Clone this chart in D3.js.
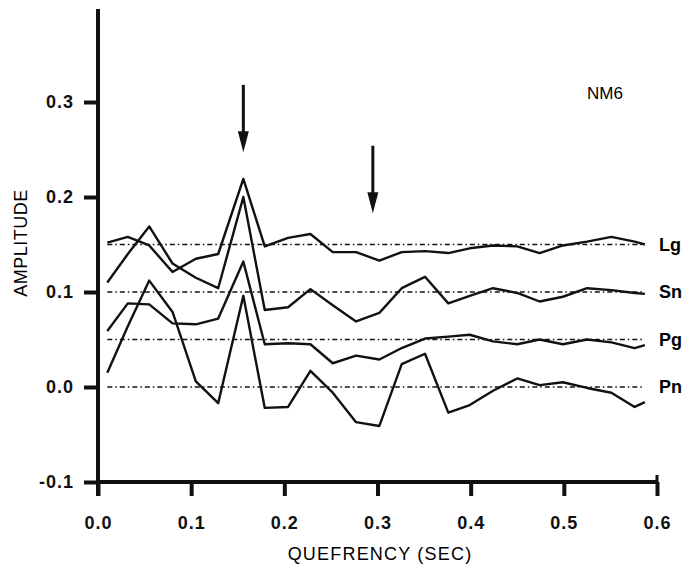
<!DOCTYPE html>
<html>
<head>
<meta charset="UTF-8">
<title>NM6 cepstra</title>
<script src="https://d3js.org/d3.v7.min.js"></script>
<style>
  body { margin: 0; background: #fff; font-family: "Liberation Sans", Arial, sans-serif; }
  .trace { fill: none; stroke: #111; stroke-width: 2.4; stroke-linejoin: round; }
  .base { stroke: #111; stroke-width: 1.3; stroke-dasharray: 5,3,1.5,3; }
  .domain, .tick line { stroke: #111; stroke-width: 4px; }
  .tick text { font-size: 18px; font-weight: bold; fill: #111; letter-spacing: 1px; }
</style>
</head>
<body>
<svg width="690" height="577"></svg>
<script>
// quefrency of the samples (s)
const quefrency = [0.010, 0.032, 0.055, 0.080, 0.105, 0.129, 0.156, 0.179, 0.204, 0.228,
  0.252, 0.277, 0.302, 0.326, 0.351, 0.376, 0.399, 0.424, 0.450, 0.474,
  0.499, 0.525, 0.551, 0.576, 0.587];

// amplitudes, each phase already offset to its baseline
const lg = [0.152, 0.158, 0.149, 0.121, 0.135, 0.140, 0.219, 0.148, 0.157, 0.161,
  0.142, 0.142, 0.133, 0.142, 0.143, 0.141, 0.146, 0.149, 0.148, 0.141,
  0.149, 0.153, 0.158, 0.153, 0.150];
const sn = [0.110, 0.140, 0.169, 0.130, 0.115, 0.104, 0.200, 0.081, 0.084, 0.103,
  0.086, 0.069, 0.078, 0.104, 0.116, 0.088, 0.096, 0.104, 0.099, 0.090,
  0.095, 0.104, 0.102, 0.099, 0.098];
const pg = [0.059, 0.088, 0.087, 0.067, 0.066, 0.072, 0.132, 0.045, 0.046, 0.045,
  0.025, 0.033, 0.029, 0.041, 0.051, 0.053, 0.055, 0.048, 0.045, 0.050,
  0.045, 0.050, 0.047, 0.041, 0.044];
const pn = [0.015, 0.064, 0.112, 0.079, 0.006, -0.017, 0.096, -0.022, -0.021, 0.017,
  -0.006, -0.037, -0.041, 0.024, 0.035, -0.027, -0.019, -0.004, 0.009, 0.002,
  0.005, -0.001, -0.006, -0.021, -0.016];

const phases = ["Lg", "Sn", "Pg", "Pn"];
const baselines = [0.15, 0.10, 0.05, 0.0];
const seriesList = [lg, sn, pg, pn];

const xTicks = [0.0, 0.1, 0.2, 0.3, 0.4, 0.5, 0.6];
const yTicks = [-0.1, 0.0, 0.1, 0.2, 0.3];

// arrows marking the peaks: [quefrency, from, to]
const arrows = [[0.156, 0.318, 0.247], [0.295, 0.254, 0.183]];

const svg = d3.select("svg");
const x = d3.scaleLinear().domain([0, 0.6]).range([98, 657]);
const y = d3.scaleLinear().domain([-0.1, 0.4]).range([482, 7]);
const fmt = d => d.toFixed(1);   // plain hyphen for the minus sign

// axes
const xAxis = svg.append("g")
  .attr("transform", `translate(0,${y(-0.1)})`)
  .call(d3.axisBottom(x).tickValues(xTicks).tickFormat(fmt)
    .tickSize(14).tickSizeOuter(0).tickPadding(20));
xAxis.select(".domain").attr("d", `M${x(0)},0H${x(0.6)}`);
// right end tick also pokes up a bit
svg.append("line").attr("x1", x(0.6)).attr("x2", x(0.6))
  .attr("y1", y(-0.1) - 7).attr("y2", y(-0.1))
  .attr("stroke", "#111").attr("stroke-width", 3);

const yAxis = svg.append("g")
  .attr("transform", `translate(${x(0)},0)`)
  .call(d3.axisLeft(y).tickValues(yTicks).tickFormat(fmt)
    .tickSize(14).tickSizeOuter(0).tickPadding(10));
yAxis.select(".domain").attr("d", `M0,${y(0.398)}V${y(-0.1) + 14}`);

// axis titles
svg.append("text").attr("x", 380).attr("y", 560)
  .attr("text-anchor", "middle").attr("font-size", 18)
  .attr("letter-spacing", 1.2).text("QUEFRENCY (SEC)");
svg.append("text").attr("transform", "translate(27,243) rotate(-90)")
  .attr("text-anchor", "middle").attr("font-size", 18)
  .attr("letter-spacing", 0.5).text("AMPLITUDE");
svg.append("text").attr("x", 605).attr("y", 99)
  .attr("text-anchor", "middle").attr("font-size", 17).text("NM6");

// dotted reference lines
svg.selectAll(".base").data(baselines).enter().append("line")
  .attr("class", "base")
  .attr("x1", x(0.010)).attr("x2", x(0.587))
  .attr("y1", d => y(d)).attr("y2", d => y(d));

// traces
const line = d3.line().x((d, i) => x(quefrency[i])).y(d => y(d));
svg.selectAll(".trace").data(seriesList).enter().append("path")
  .attr("class", "trace").attr("d", line);

// phase labels
svg.selectAll(".phase").data(phases).enter().append("text")
  .attr("x", 659).attr("y", (d, i) => y(baselines[i]) + 6)
  .attr("font-size", 18).attr("font-weight", "bold").text(d => d);

// arrows
arrows.forEach(([q, a, b]) => {
  const g = svg.append("g");
  g.append("line").attr("x1", x(q)).attr("x2", x(q))
    .attr("y1", y(a)).attr("y2", y(b) - 12)
    .attr("stroke", "#111").attr("stroke-width", 3);
  g.append("path")
    .attr("d", `M${x(q) - 5.5},${y(b) - 21}L${x(q) + 5.5},${y(b) - 21}L${x(q)},${y(b)}Z`)
    .attr("fill", "#111");
});
</script>
</body>
</html>
